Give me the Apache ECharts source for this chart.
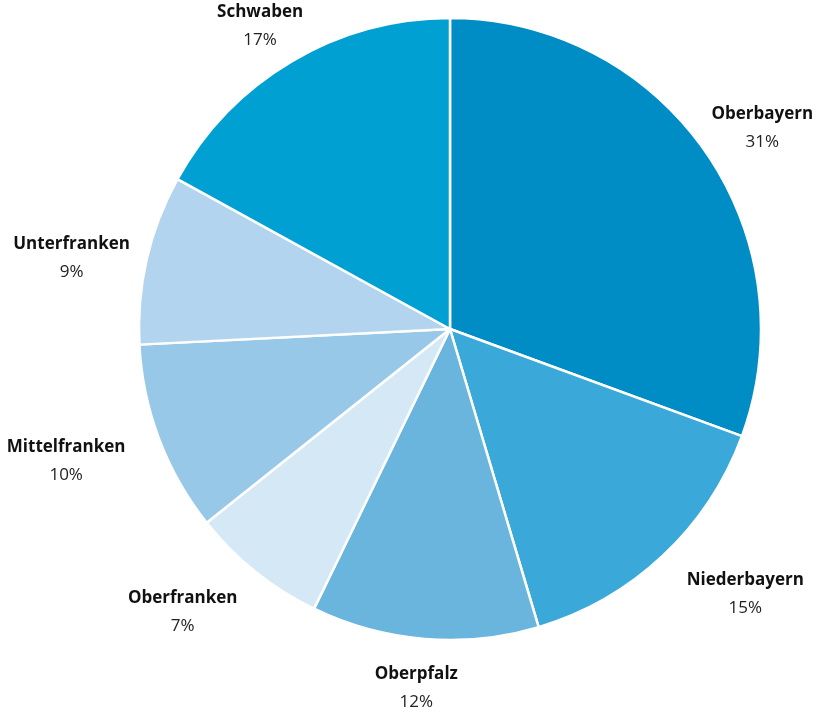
<!DOCTYPE html>
<html>
<head>
<meta charset="utf-8">
<script src="https://cdn.jsdelivr.net/npm/echarts@6/dist/echarts.min.js"></script>
<style>
  html, body { margin: 0; padding: 0; background: #ffffff; }
  #chart { width: 817px; height: 715px; }
</style>
</head>
<body>
<div id="chart"></div>
<script>
// Regierungsbezirke, clockwise from 12 o'clock
const regions = ['Oberbayern', 'Niederbayern', 'Oberpfalz', 'Oberfranken', 'Mittelfranken', 'Unterfranken', 'Schwaben'];
const shares = [30.6, 14.8, 11.8, 7.1, 9.9, 8.8, 17.0];
const percentLabels = ['31%', '15%', '12%', '7%', '10%', '9%', '17%'];
const sliceColors = ['#008cc4', '#3aa8d8', '#69b5de', '#d5e8f5', '#98c8e7', '#b3d4ee', '#00a0d3'];

const CX = 450, CY = 329, R = 311;
const LABEL_RADIUS = 330;   // anchor distance of the labels from the centre
const LABEL_DROP = 8;       // labels sit slightly below their anchor
const CLEARANCE = 5;        // minimum gap between a label box and the rim
const total = shares.reduce((a, b) => a + b, 0);

// mid-angle of each slice (radians, clockwise from top)
const midAngles = [];
let acc = 0;
shares.forEach(v => {
  midAngles.push(((acc + v / 2) / total) * Math.PI * 2);
  acc += v;
});

// distance from the pie centre to the closest point of a box centred at (x, y)
function boxDistance(x, y, hw, hh) {
  const px = Math.min(Math.max(CX, x - hw), x + hw);
  const py = Math.min(Math.max(CY, y - hh), y + hh);
  return Math.hypot(px - CX, py - CY);
}

const chart = echarts.init(document.getElementById('chart'), null, { renderer: 'canvas' });

chart.setOption({
  animation: false,
  backgroundColor: '#ffffff',
  series: [{
    type: 'pie',
    center: [CX, CY],
    radius: [0, R],
    startAngle: 90,
    clockwise: true,
    avoidLabelOverlap: false,
    itemStyle: { borderColor: '#ffffff', borderWidth: 2.5 },
    labelLine: { show: false },
    label: {
      show: true,
      position: 'outside',
      formatter: p => '{n|' + p.name + '}\n{v|' + percentLabels[p.dataIndex] + '}',
      rich: {
        n: { fontFamily: 'Open Sans', fontWeight: 'bold', fontSize: 17, color: '#111111', lineHeight: 28, align: 'center' },
        v: { fontFamily: 'Open Sans', fontWeight: 'normal', fontSize: 17, color: '#222222', lineHeight: 28, align: 'center' }
      }
    },
    // push each label box outward from an anchor on the slice's mid-ray;
    // lower-half labels spread further sideways, and no box may overlap the pie
    labelLayout: function (params) {
      const a = midAngles[params.dataIndex];
      const dx = Math.sin(a), dy = -Math.cos(a);
      const hw = params.labelRect.width / 2, hh = params.labelRect.height / 2;
      const spread = dx * (1 + Math.max(dy, 0));
      const x = CX + dx * LABEL_RADIUS + spread * hw;
      let y = CY + dy * LABEL_RADIUS + dy * hh + LABEL_DROP;
      const step = dy < 0 ? -1 : 1;
      for (let i = 0; i < 120 && boxDistance(x, y, hw, hh) < R + CLEARANCE; i++) {
        y += step;
      }
      return { x: x, y: y, align: 'center', verticalAlign: 'middle' };
    },
    data: regions.map((name, i) => ({
      name: name,
      value: shares[i],
      itemStyle: { color: sliceColors[i] }
    }))
  }]
});
</script>
</body>
</html>
